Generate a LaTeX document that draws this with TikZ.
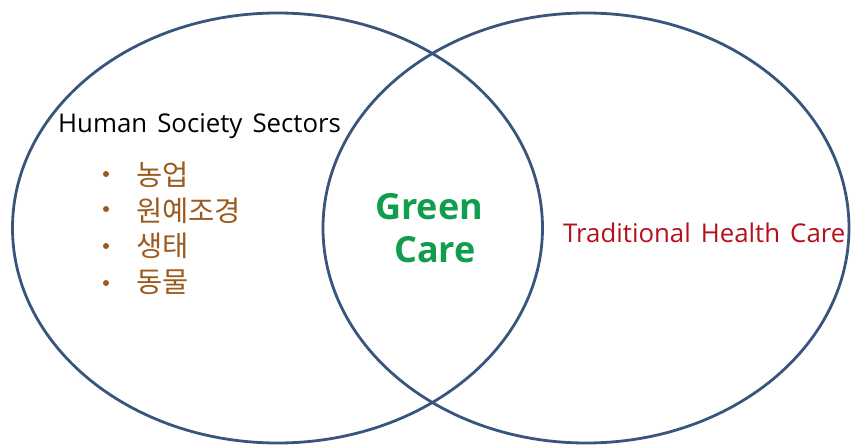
\documentclass[tikz,border=0pt]{standalone}
\usepackage{fontspec}
\setmainfont{Open Sans}[WordSpace=1.5]
\newfontfamily\kr{Noto Sans CJK KR}
\definecolor{ringblue}{RGB}{58,85,125}
\definecolor{itembrown}{RGB}{155,90,30}
\definecolor{caregreen}{RGB}{16,158,78}
\definecolor{thcred}{RGB}{180,16,30}
\tikzset{
  ring/.style={draw=ringblue, line width=2.8pt},
  label/.style={anchor=base west, inner sep=0pt, font=\fontsize{25.8}{30}\selectfont},
  item/.style={anchor=base west, inner sep=0pt, text=itembrown, font=\kr\fontsize{28.5}{30}\selectfont},
  dot/.style={circle, fill=itembrown, inner sep=0pt, minimum size=6pt},
  gc/.style={anchor=base, inner sep=0pt, text=caregreen, font=\fontsize{36}{40}\selectfont\bfseries}
}
\begin{document}
\begin{tikzpicture}[x=1pt,y=-1pt]
\useasboundingbox (0,0) rectangle (851,446);
\draw[ring] (277.5,228) ellipse [x radius=265, y radius=215];
\draw[ring] (586,228) ellipse [x radius=263, y radius=215];
\node[label] (hss) at (58,133) {Human Society Sectors};
\node[dot] (d1) at (106,174) {};
\node[dot] (d2) at (106,209) {};
\node[dot] (d3) at (106,246) {};
\node[dot] (d4) at (106,283) {};
\node[item] (i1) at (136,186) {농업};
\node[item] (i2) at (136,222) {원예조경};
\node[item] (i3) at (136,257) {생태};
\node[item] (i4) at (136,292) {동물};
\node[gc] (green) at (429,220) {Green};
\node[gc] (care) at (435,263) {Care};
\node[label, text=thcred] (thc) at (563,243) {Traditional Health Care};
\end{tikzpicture}
\end{document}
